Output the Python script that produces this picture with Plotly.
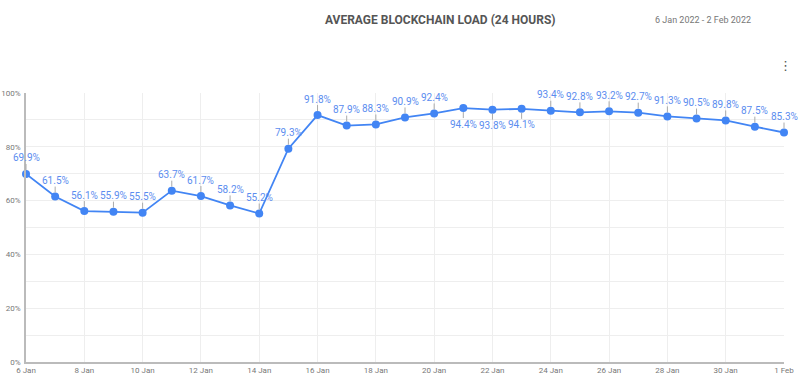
import plotly.graph_objects as go
import pandas as pd

dates = pd.date_range("2022-01-06", "2022-02-01", freq="D")
load = [69.9, 61.5, 56.1, 55.9, 55.5, 63.7, 61.7, 58.2, 55.2, 79.3, 91.8, 87.9, 88.3,
        90.9, 92.4, 94.4, 93.8, 94.1, 93.4, 92.8, 93.2, 92.7, 91.3, 90.5, 89.8, 87.5, 85.3]
below = {"2022-01-21", "2022-01-22", "2022-01-23"}

title = "AVERAGE BLOCKCHAIN LOAD (24 HOURS)"
date_range = "6 Jan 2022 - 2 Feb 2022"

fig = go.Figure()
fig.add_trace(go.Scatter(
    x=dates, y=load, mode="lines+markers",
    line=dict(color="#4285F4", width=1.8),
    marker=dict(color="#4285F4", size=8),
    hoverinfo="skip", showlegend=False, cliponaxis=False,
))

anns = []
for d, v in zip(dates, load):
    down = d.strftime("%Y-%m-%d") in below
    anns.append(dict(
        x=d, y=v, xref="x", yref="y", text=f"{v}%",
        showarrow=True, arrowhead=0, arrowwidth=1, arrowcolor="#aaaaaa",
        ax=0, ay=16 if down else -16, standoff=4, borderpad=0,
        font=dict(family="Roboto", size=10, color="#5b8def"),
    ))

L, R, T, B = 26, 19, 93, 24
pw, ph = 803 - L - R, 386 - T - B


def px(x, y):
    return (x - L) / pw, (386 - y - B) / ph


for txt, (x, y), font in [
    (title, (440, 20), dict(family="Roboto", size=12, color="#555555", weight="bold")),
    (date_range, (703, 20), dict(family="Roboto", size=9, color="#777777")),
    ("⋮", (785, 65), dict(family="DejaVu Sans", size=13, color="#555555")),
]:
    xx, yy = px(x, y)
    anns.append(dict(x=xx, y=yy, xref="paper", yref="paper", text=txt, showarrow=False,
                     xanchor="center", yanchor="middle", font=font))

fig.update_layout(
    width=803, height=386,
    margin=dict(l=L, r=R, t=T, b=B),
    paper_bgcolor="white", plot_bgcolor="white",
    annotations=anns,
    xaxis=dict(
        range=[dates[0], dates[-1]], tick0="2022-01-06", dtick=2 * 86400000,
        tickformat="%-d %b", showgrid=True, gridcolor="#eeeeee", gridwidth=1,
        showline=True, linecolor="#bbbbbb", linewidth=1.5, ticks="", zeroline=False,
        tickfont=dict(family="Roboto", size=8, color="#777777"), automargin=False,
    ),
    yaxis=dict(
        range=[0, 100], tickvals=[0, 20, 40, 60, 80, 100], ticktext=["0%", "20%", "40%", "60%", "80%", "100%"],
        showgrid=True, gridcolor="#eeeeee", gridwidth=1,
        minor=dict(dtick=10, showgrid=True, gridcolor="#eeeeee"),
        showline=True, linecolor="#bbbbbb", linewidth=1.5, ticks="", zeroline=False,
        tickfont=dict(family="Roboto", size=8, color="#777777"), ticklabelstandoff=2,
        automargin=False,
    ),
)

fig.write_html("out.html", config={"displayModeBar": False},
               post_script="document.body.style.margin='0';")
